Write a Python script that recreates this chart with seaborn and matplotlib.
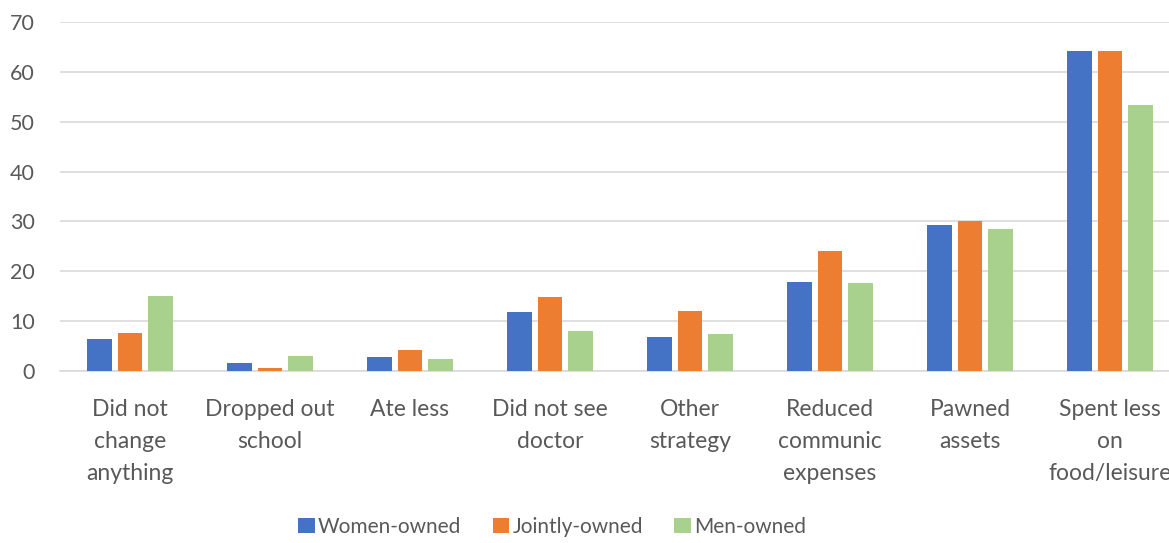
import matplotlib
matplotlib.use("Agg")
import matplotlib.pyplot as plt
import seaborn as sns
import pandas as pd

categories = ["Did not\nchange\nanything", "Dropped out\nschool", "Ate less",
              "Did not see\ndoctor", "Other\nstrategy", "Reduced\ncommunic\nexpenses",
              "Pawned\nassets", "Spent less\non\nfood/leisure"]
series = ["Women-owned", "Jointly-owned", "Men-owned"]
women = [6.4, 1.7, 2.9, 11.8, 6.8, 17.8, 29.2, 64.2]
jointly = [7.7, 0.6, 4.2, 14.9, 12.0, 24.1, 30.1, 64.2]
men = [15.1, 3.0, 2.5, 8.1, 7.4, 17.6, 28.4, 53.4]
colors = ["#4472C4", "#ED7D31", "#A9D18E"]

rows = []
for s, vals in zip(series, [women, jointly, men]):
    for c, v in zip(categories, vals):
        rows.append({"cat": c, "series": s, "value": v})
df = pd.DataFrame(rows)

sns.set_theme(style="white")
plt.rcParams['font.family'] = ['Lato', 'DejaVu Sans']

fig = plt.figure(figsize=(11.69, 5.43), dpi=100)
ax = fig.add_axes([60/1169, 1 - 371/543, 1120/1169, 349/543])
sns.barplot(data=df, x="cat", y="value", hue="series", palette=colors,
            width=0.66, gap=0.2, ax=ax, saturation=1, errorbar=None,
            linewidth=0, edgecolor="none", zorder=3)

ax.set_ylim(0, 70)
ax.set_xlim(-0.5, 7.5)
ax.set_yticks(range(0, 71, 10))
ax.yaxis.grid(True, color="#D9D9D9", linewidth=1.2, zorder=0)
ax.set_axisbelow(True)
for sp in ["top", "right", "left"]:
    ax.spines[sp].set_visible(False)
ax.spines["bottom"].set_color("#D9D9D9")
ax.spines["bottom"].set_linewidth(1.2)
ax.set_xlabel("")
ax.set_ylabel("")
ax.tick_params(axis="both", length=0, colors="#595959", labelsize=16.5)
ax.tick_params(axis="y", pad=18, labelsize=15.5)
ax.tick_params(axis="x", pad=20)
for t in ax.get_xticklabels():
    t.set_linespacing(1.65)

leg = ax.legend(loc="center", bbox_to_anchor=(552/1169, 1 - 527/543), bbox_transform=fig.transFigure,
                ncol=3, frameon=False, fontsize=15, labelcolor="#595959",
                handlelength=0.8, handleheight=0.75, handletextpad=0.15, columnspacing=1.5)

fig.savefig("out.png", dpi=100)
